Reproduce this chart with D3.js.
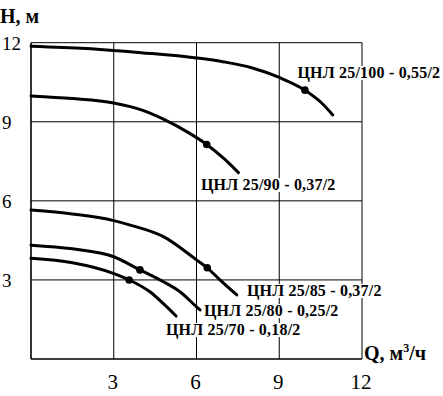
<!DOCTYPE html>
<html>
<head>
<meta charset="utf-8">
<script src="https://cdn.jsdelivr.net/npm/d3@7"></script>
<style>
  body { margin: 0; background: #fff; }
  svg { display: block; }
</style>
</head>
<body>
<div id="chart"></div>
<script>
// pump curves H(Q): [Q m3/h, H m]
const c100 = [[0, 11.87], [2, 11.78], [4, 11.62], [6, 11.42], [7, 11.27], [8, 11.05], [9, 10.68], [9.93, 10.2], [10.5, 9.75], [10.94, 9.26]];
const c90 = [[0, 9.98], [1.5, 9.88], [3, 9.71], [4, 9.45], [4.8, 9.1], [5.77, 8.55], [6.37, 8.14], [7, 7.6], [7.52, 7.07]];
const c85 = [[0, 5.65], [1.5, 5.5], [3, 5.25], [3.6, 5.08], [4.8, 4.64], [6, 3.76], [6.39, 3.46], [6.85, 3.0], [7.46, 2.43]];
const c80 = [[0, 4.32], [1.5, 4.18], [3, 3.88], [3.95, 3.38], [4.8, 2.93], [5.4, 2.55], [6, 1.98], [6.13, 1.86]];
const c70 = [[0, 3.82], [1.5, 3.65], [2.98, 3.25], [3.56, 3.0], [4.31, 2.55], [4.8, 2.1], [5.26, 1.63]];

// operating points marked on the curves
const dots = [[9.93, 10.2], [6.37, 8.14], [6.39, 3.46], [3.95, 3.38], [3.56, 3.0]];

const curveNames = ["ЦНЛ 25/100 - 0,55/2", "ЦНЛ 25/90 - 0,37/2", "ЦНЛ 25/85 - 0,37/2", "ЦНЛ 25/80 - 0,25/2", "ЦНЛ 25/70 - 0,18/2"];
// where each label starts, in chart units
const labelAt = [[9.66, 10.66], [6.16, 6.41], [7.83, 2.39], [6.27, 1.63], [4.89, 0.91]];

const qTicks = [3, 6, 9, 12];
const hTicks = [3, 6, 9, 12];

const width = 443, height = 396;
const margin = { left: 31, right: 81, top: 42.7, bottom: 37 };

const svg = d3.select("#chart").append("svg")
    .attr("width", width)
    .attr("height", height)
    .style("font-family", "'Liberation Serif', 'Times New Roman', serif");

const x = d3.scaleLinear().domain([0, 12]).range([margin.left, width - margin.right]);
const y = d3.scaleLinear().domain([0, 12]).range([height - margin.bottom, margin.top]);

// grid (the 12 lines close the box)
svg.append("g").selectAll("line")
    .data(qTicks)
    .join("line")
    .attr("x1", d => x(d)).attr("x2", d => x(d))
    .attr("y1", y(0)).attr("y2", y(12))
    .attr("stroke", "#000").attr("stroke-width", 1);
svg.append("g").selectAll("line")
    .data(hTicks)
    .join("line")
    .attr("x1", x(0)).attr("x2", x(12))
    .attr("y1", d => y(d)).attr("y2", d => y(d))
    .attr("stroke", "#000").attr("stroke-width", 1);

// axes
svg.append("line")
    .attr("x1", x(0)).attr("x2", x(0)).attr("y1", y(0)).attr("y2", y(12))
    .attr("stroke", "#000").attr("stroke-width", 1.6);
svg.append("line")
    .attr("x1", x(0)).attr("x2", x(12)).attr("y1", y(0)).attr("y2", y(0))
    .attr("stroke", "#000").attr("stroke-width", 1.6);

// tick labels
svg.append("g").selectAll("text")
    .data(hTicks)
    .join("text")
    .attr("x", 2)
    .attr("y", d => y(d) + 7)
    .attr("font-size", 19)
    .text(d => d);
svg.append("g").selectAll("text")
    .data(qTicks)
    .join("text")
    .attr("x", d => x(d) - 1)
    .attr("y", 389)
    .attr("text-anchor", "middle")
    .attr("font-size", 21)
    .text(d => d);

// axis titles
svg.append("text")
    .attr("x", 0).attr("y", 23)
    .attr("font-size", 20).attr("font-weight", 700)
    .text("H, м");
const qt = svg.append("text")
    .attr("x", 364).attr("y", 360)
    .attr("font-size", 20).attr("font-weight", 700);
qt.append("tspan").text("Q, м");
qt.append("tspan").attr("font-size", 12).attr("dy", -8).text("3");
qt.append("tspan").attr("dy", 8).text("/ч");

// curves
const line = d3.line()
    .x(d => x(d[0]))
    .y(d => y(d[1]))
    .curve(d3.curveMonotoneX);

svg.append("g").selectAll("path")
    .data([c100, c90, c85, c80, c70])
    .join("path")
    .attr("d", line)
    .attr("fill", "none")
    .attr("stroke", "#000")
    .attr("stroke-width", 3)
    .attr("stroke-linecap", "round");

svg.append("g").selectAll("circle")
    .data(dots)
    .join("circle")
    .attr("cx", d => x(d[0]))
    .attr("cy", d => y(d[1]))
    .attr("r", 3.8)
    .attr("fill", "#000");

// curve labels sit on a white patch that hides the grid
const labels = svg.append("g").selectAll("g")
    .data(curveNames)
    .join("g");
labels.append("text")
    .attr("x", (d, i) => x(labelAt[i][0]))
    .attr("y", (d, i) => y(labelAt[i][1]))
    .attr("font-size", 16)
    .attr("font-weight", 700)
    .attr("letter-spacing", 0.2)
    .text(d => d);
labels.each(function() {
    const g = d3.select(this);
    const b = g.select("text").node().getBBox();
    g.insert("rect", "text")
        .attr("x", b.x - 1).attr("y", b.y + 2)
        .attr("width", b.width + 1).attr("height", b.height - 4)
        .attr("fill", "#fff");
});
</script>
</body>
</html>
